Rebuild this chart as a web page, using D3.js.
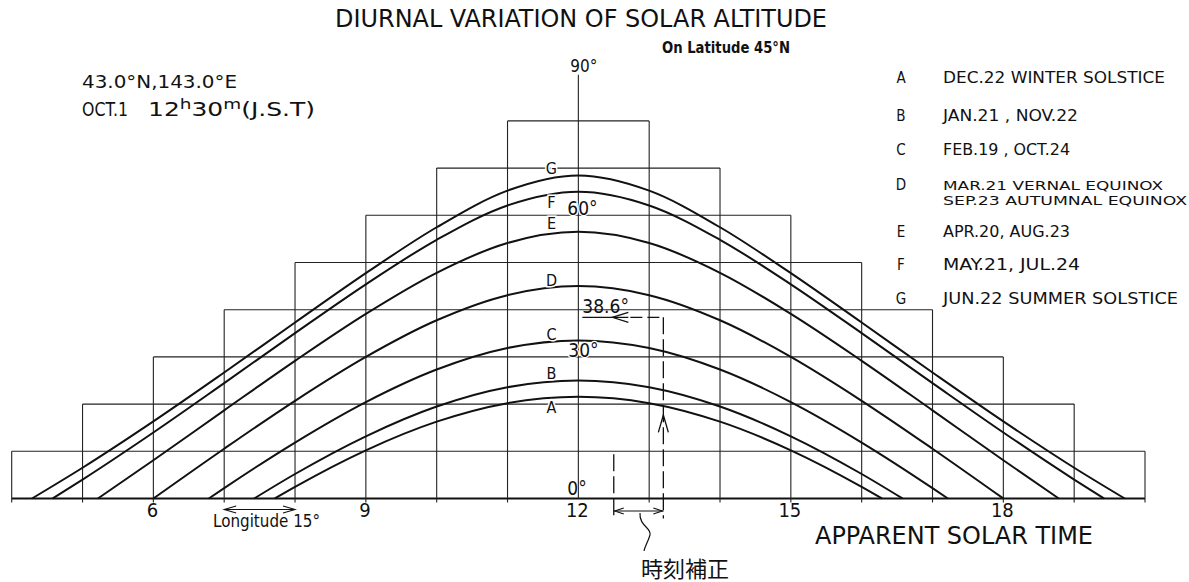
<!DOCTYPE html>
<html><head><meta charset="utf-8">
<script src="https://cdn.jsdelivr.net/npm/d3@7"></script>
<style>
html,body{margin:0;padding:0;background:#fff;}
svg{display:block;}
text{font-family:"DejaVu Sans","Liberation Sans",sans-serif;font-stretch:condensed;fill:#111;}
</style></head>
<body>
<svg id="chart" width="1189" height="582"></svg>
<script>
// ---------- DATA ----------
const seriesNames = ["A","B","C","D","E","F","G"];
const hoursA = [7.714,8,9,10,11,12,13,14,15,16,16.286];
const altA   = [0,2.46,10.21,16.28,20.20,21.55,20.20,16.28,10.21,2.46,0];
const hoursB = [7.423,8,9,10,11,12,13,14,15,16,16.577];
const altB   = [0,5.19,13.18,19.49,23.58,25.0,23.58,19.49,13.18,5.19,0];
const hoursC = [6.783,7,8,9,10,11,12,13,14,15,16,17,17.217];
const altC   = [0,2.20,11.86,20.43,27.33,31.89,33.5,31.89,27.33,20.43,11.86,2.20,0];
const hoursD = [6,7,8,9,10,11,12,13,14,15,16,17,18];
const altD   = [0,10.55,20.70,30.0,37.76,43.08,45.0,43.08,37.76,30.0,20.70,10.55,0];
const hoursE = [5.217,6,7,8,9,10,11,12,13,14,15,16,17,18,18.783];
const altE   = [0,8.10,18.68,29.17,39.12,47.82,54.13,56.5,54.13,47.82,39.12,29.17,18.68,8.10,0];
const hoursF = [4.577,5,6,7,8,9,10,11,12,13,14,15,16,17,18,19,19.423];
const altF   = [0,4.01,13.99,24.45,35.03,45.37,54.81,62.09,65.0,62.09,54.81,45.37,35.03,24.45,13.99,4.01,0];
const hoursG = [4.286,5,6,7,8,9,10,11,12,13,14,15,16,17,18,19,19.714];
const altG   = [0,6.52,16.34,26.70,37.28,47.74,57.47,65.23,68.45,65.23,57.47,47.74,37.28,26.70,16.34,6.52,0];

const hourTicks = [4,5,6,7,8,9,10,11,12,13,14,15,16,17,18,19,20];
const hourLabels = [6,9,12,15,18];
const altLevels = [10,20,30,40,50,60,70,80];

const legendTexts = [
  ["DEC.22 WINTER SOLSTICE"],
  ["JAN.21 , NOV.22"],
  ["FEB.19 , OCT.24"],
  ["MAR.21 VERNAL EQUINOX","SEP.23 AUTUMNAL EQUINOX"],
  ["APR.20, AUG.23"],
  ["MAY.21, JUL.24"],
  ["JUN.22 SUMMER SOLSTICE"]
];
const exampleAltitude = 38.6;
const jstHour = 12.5;       // 12h30m J.S.T.
const correctedHour = 13.2; // apparent solar time after correction

// ---------- LAYOUT ----------
const svg = d3.select("#chart");
const x = d3.scaleLinear().domain([4,20]).range([11.7,1145]);
const y = d3.scaleLinear().domain([0,90]).range([498.5,73.7]);
const ink = "#111";

const g = svg.append("g");

// horizontal staircase lines
altLevels.forEach(a=>{
  const d = 9 - a/10;
  g.append("line").attr("x1",x(12-d)).attr("x2",x(12+d))
    .attr("y1",y(a)).attr("y2",y(a)).attr("stroke","#222").attr("stroke-width",1.1);
});
// baseline
g.append("line").attr("x1",x(4)).attr("x2",x(20)).attr("y1",y(0)).attr("y2",y(0))
  .attr("stroke",ink).attr("stroke-width",1.8);
// vertical staircase lines with ticks
hourTicks.forEach(h=>{
  const d = Math.abs(h-12);
  const top = h===12 ? 90 : (9-d)*10;
  g.append("line").attr("x1",x(h)).attr("x2",x(h))
    .attr("y1",y(0)+(h===12?0:4)).attr("y2",y(top)+(h===12?1:0))
    .attr("stroke","#222").attr("stroke-width",1.1);
});

// curves
const series = [
  [hoursA,altA],[hoursB,altB],[hoursC,altC],[hoursD,altD],
  [hoursE,altE],[hoursF,altF],[hoursG,altG]
];
const line = d3.line().x(d=>x(d[0])).y(d=>y(d[1])).curve(d3.curveMonotoneX);
series.forEach(([hs,as])=>{
  g.append("path").attr("d",line(hs.map((h,i)=>[h,as[i]])))
    .attr("fill","none").attr("stroke",ink).attr("stroke-width",2);
});

// curve letter labels
const labelPos = [ // [hour, altitude] for label baseline
  [11.62,18.1],[11.62,25.4],[11.62,33.6],[11.62,45.0],[11.62,57.1],[11.62,61.6],[11.62,68.7]
];
seriesNames.forEach((n,i)=>{
  g.append("text").attr("x",x(labelPos[i][0])).attr("y",y(labelPos[i][1]))
    .attr("text-anchor","middle").attr("font-size",16)
    .attr("stroke","#fff").attr("stroke-width",3).attr("paint-order","stroke")
    .text(n);
});

// altitude labels on axis
g.append("text").attr("x",x(12)-8).attr("y",y(90)-2).attr("font-size",17).text("90°");
g.append("text").attr("x",x(12)-11).attr("y",y(60)).attr("font-size",19)
  .attr("stroke","#fff").attr("stroke-width",2.5).attr("paint-order","stroke").text("60°");
g.append("text").attr("x",x(12)-10).attr("y",y(30)).attr("font-size",19)
  .attr("stroke","#fff").attr("stroke-width",2.5).attr("paint-order","stroke").text("30°");
g.append("text").attr("x",x(12)-11).attr("y",y(0)-4).attr("font-size",19).text("0°");

// hour labels
hourLabels.forEach(h=>{
  g.append("text").attr("x",x(h)-1).attr("y",y(0)+18.5).attr("text-anchor","middle")
    .attr("font-size",20).text(h);
});

// example annotation (38.6°)
const ya = y(exampleAltitude);
g.append("text").attr("x",x(12)+4).attr("y",ya-3).attr("font-size",19).text(exampleAltitude+"°");
g.append("line").attr("x1",x(12)+4).attr("x2",x(12)+50).attr("y1",ya+1).attr("y2",ya+1)
  .attr("stroke",ink).attr("stroke-width",1.2);
g.append("path").attr("d",`M${x(12)+50},${ya-4}L${x(12)+34},${ya+1}L${x(12)+50},${ya+6}`)
  .attr("fill","none").attr("stroke",ink).attr("stroke-width",1.2);
g.append("line").attr("x1",x(12)+52).attr("x2",x(correctedHour)).attr("y1",ya+1).attr("y2",ya+1)
  .attr("stroke",ink).attr("stroke-width",1.2).attr("stroke-dasharray","12,5");
g.append("line").attr("x1",x(correctedHour)).attr("x2",x(correctedHour)).attr("y1",ya+1).attr("y2",y(0)+20)
  .attr("stroke",ink).attr("stroke-width",1.3).attr("stroke-dasharray","17,5");
g.append("path").attr("d",`M${x(correctedHour)-5},${y(14)}L${x(correctedHour)},${y(17.7)}L${x(correctedHour)+5},${y(14)}`)
  .attr("fill","none").attr("stroke",ink).attr("stroke-width",1.3);
g.append("line").attr("x1",x(jstHour)).attr("x2",x(jstHour)).attr("y1",y(10)+3).attr("y2",y(0)+20)
  .attr("stroke",ink).attr("stroke-width",1.3).attr("stroke-dasharray","17,5");
// correction bracket
const yb = y(0)+12.5;
g.append("line").attr("x1",x(jstHour)).attr("x2",x(correctedHour)).attr("y1",yb).attr("y2",yb)
  .attr("stroke",ink).attr("stroke-width",1.1);
g.append("path").attr("d",`M${x(jstHour)+10},${yb-3}L${x(jstHour)+1},${yb}L${x(jstHour)+10},${yb+3}`)
  .attr("fill","none").attr("stroke",ink).attr("stroke-width",1.1);
g.append("path").attr("d",`M${x(correctedHour)-10},${yb-3}L${x(correctedHour)-1},${yb}L${x(correctedHour)-10},${yb+3}`)
  .attr("fill","none").attr("stroke",ink).attr("stroke-width",1.1);
g.append("path").attr("d",`M640,${yb+2} C639,526 652,528 650,535 S645,546 644,551`)
  .attr("fill","none").attr("stroke",ink).attr("stroke-width",1.2);
g.append("text").attr("x",641).attr("y",577).attr("font-size",22)
  .style("font-family",'"Noto Sans CJK JP","Noto Sans CJK SC",sans-serif').text("時刻補正");

// longitude 15° arrow
const yl = y(0)+11;
g.append("line").attr("x1",x(7)).attr("x2",x(8)).attr("y1",yl).attr("y2",yl).attr("stroke",ink).attr("stroke-width",1.1);
g.append("path").attr("d",`M${x(7)+12},${yl-3.5}L${x(7)},${yl}L${x(7)+12},${yl+3.5}`).attr("fill","none").attr("stroke",ink).attr("stroke-width",1.1);
g.append("path").attr("d",`M${x(8)-12},${yl-3.5}L${x(8)},${yl}L${x(8)-12},${yl+3.5}`).attr("fill","none").attr("stroke",ink).attr("stroke-width",1.1);
g.append("text").attr("x",213).attr("y",527).attr("font-size",17)
  .attr("textLength",107).attr("lengthAdjust","spacingAndGlyphs").text("Longitude 15°");

// axis title
g.append("text").attr("x",815).attr("y",544).attr("font-size",24)
  .attr("textLength",278).attr("lengthAdjust","spacingAndGlyphs").text("APPARENT SOLAR TIME");

// titles
svg.append("text").attr("x",335).attr("y",27).attr("font-size",25)
  .attr("textLength",492).attr("lengthAdjust","spacingAndGlyphs").text("DIURNAL VARIATION OF SOLAR ALTITUDE");
svg.append("text").attr("x",662).attr("y",53).attr("font-size",15).attr("font-weight","bold")
  .attr("textLength",128).attr("lengthAdjust","spacingAndGlyphs").text("On Latitude 45°N");

// location block
svg.append("text").attr("x",82).attr("y",88).attr("font-size",17)
  .attr("textLength",155).attr("lengthAdjust","spacingAndGlyphs").text("43.0°N,143.0°E");
svg.append("text").attr("x",82).attr("y",116).attr("font-size",19)
  .attr("textLength",46).attr("lengthAdjust","spacingAndGlyphs").text("OCT.1");
const t2 = svg.append("text").attr("x",148).attr("y",116).attr("font-size",19)
  .attr("textLength",167).attr("lengthAdjust","spacingAndGlyphs");
t2.append("tspan").text("12");
t2.append("tspan").attr("dy",-7).attr("font-size",14).text("h");
t2.append("tspan").attr("dy",7).text("30");
t2.append("tspan").attr("dy",-7).attr("font-size",14).text("m");
t2.append("tspan").attr("dy",7).text("(J.S.T)");

// legend
const legendY = [83,121,155,190,237,270,304];
const legendLen = [[222],[135],[127],[220,244],[127],[137],[235]];
seriesNames.forEach((n,i)=>{
  svg.append("text").attr("x",901).attr("y",legendY[i]).attr("text-anchor","middle")
    .attr("font-size",15).text(n);
  legendTexts[i].forEach((t,j)=>{
    const multi = legendTexts[i].length>1;
    svg.append("text").attr("x",943).attr("y",legendY[i]+j*15.2).attr("font-size",multi?13:15)
      .attr("textLength",legendLen[i][j]).attr("lengthAdjust","spacingAndGlyphs").text(t);
  });
});
</script>
</body></html>
